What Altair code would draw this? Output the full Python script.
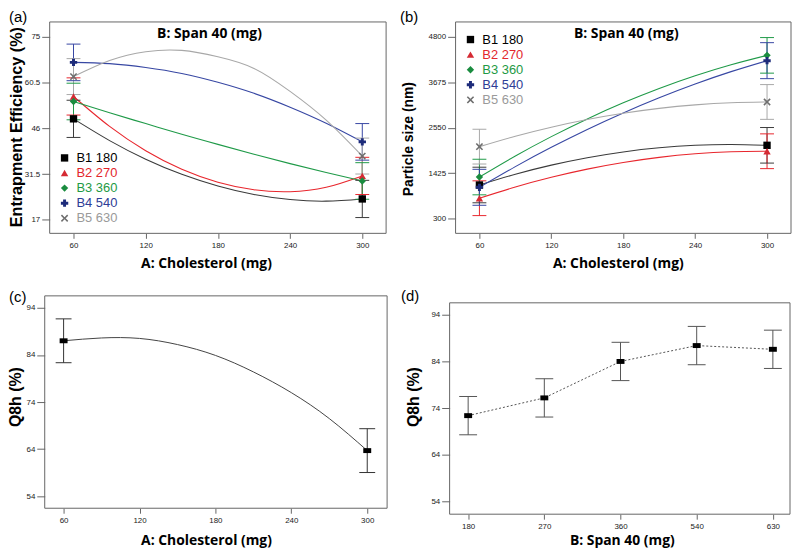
import altair as alt
import pandas as pd

# ---------------- data ----------------
series = ["B1 180", "B2 270", "B3 360", "B4 540", "B5 630"]
line_colors = ["#3a3a3a", "#e8262d", "#1f9a48", "#3747a3", "#a8a8a8"]
marker_colors = ["#000000", "#d52a33", "#1a8c3f", "#1d2b7a", "#6e6e6e"]
text_colors = ["#000000", "#e3262c", "#1e9a45", "#2e3d96", "#9a9a9a"]
X_SHAPE = "M-1,-0.7L-0.7,-1L0,-0.3L0.7,-1L1,-0.7L0.3,0L1,0.7L0.7,1L0,0.3L-0.7,1L-1,0.7L-0.3,0Z"
RECT_SHAPE = "M-1,-0.62L1,-0.62L1,0.62L-1,0.62Z"
shapes = ["square", "triangle-up", "diamond", "cross", X_SHAPE]

chol_levels = [60, 300]
chol_ticks = [60, 120, 180, 240, 300]
curve_x = [60, 90, 120, 150, 180, 210, 240, 270, 300]

# (a) Entrapment efficiency
ee_ticks = [17, 31.5, 46, 60.5, 75]
ee_b1 = [49.0, 42.1, 36.2, 31.4, 27.7, 25.0, 23.4, 22.9, 23.6]
ee_b2 = [56.1, 46.6, 38.9, 33.0, 28.9, 26.5, 25.9, 27.3, 30.9]
ee_b3 = [54.5, 50.9, 47.5, 44.1, 40.9, 37.8, 34.8, 32.0, 29.3]
ee_b4 = [66.9, 66.5, 65.3, 63.4, 60.6, 57.1, 52.7, 47.6, 41.7]
ee_b5 = [62.4, 67.5, 70.3, 70.7, 68.7, 65.0, 57.7, 48.6, 37.2]
ee_at60 = [49.0, 56.1, 54.5, 66.9, 62.4]
ee_at300 = [23.6, 30.9, 29.3, 41.7, 37.2]
ee_err = [5.9, 5.9, 5.8, 5.8, 5.7]

# (b) Particle size
ps_ticks = [300, 1425, 2550, 3675, 4800]
ps_b1 = [1135, 1401, 1626, 1810, 1953, 2055, 2117, 2137, 2117]
ps_b2 = [808, 1086, 1326, 1528, 1692, 1818, 1907, 1957, 1970]
ps_b3 = [1332, 1853, 2332, 2770, 3167, 3523, 3837, 4110, 4342]
ps_b4 = [1078, 1590, 2067, 2510, 2919, 3294, 3634, 3940, 4211]
ps_b5 = [2084, 2342, 2565, 2755, 2910, 3031, 3118, 3171, 3189]
ps_at60 = [1135, 808, 1332, 1078, 2084]
ps_at300 = [2117, 1970, 4342, 4211, 3189]
ps_err = [440, 430, 440, 445, 430]

# (c) Q8h vs cholesterol
q_ticks = [54, 64, 74, 84, 94]
qc_curve = [87.0, 87.6, 87.5, 86.2, 83.9, 80.4, 76.0, 70.5, 63.7]
qc_pts = [87.0, 63.7]
qc_err = [4.65, 4.65]

# (d) Q8h vs Span 40
span_labels = ["180", "270", "360", "540", "630"]
qd_pts = [72.4, 76.2, 84.0, 87.4, 86.6]
qd_err = [4.1, 4.1, 4.1, 4.1, 4.1]

TICK_FONT = "Liberation Sans"
TITLE_FONT = "Open Sans"
FRAME = "#666"


def line_df(curves):
    rows = []
    for i, ys in enumerate(curves):
        for x, y in zip(curve_x, ys):
            rows.append({"x": x, "y": y, "s": series[i], "c": line_colors[i]})
    return pd.DataFrame(rows)


def pt_df(p60, p300, err):
    rows = []
    for i in range(len(series)):
        for x, y in zip(chol_levels, [p60[i], p300[i]]):
            rows.append({"x": x, "y": y, "lo": y - err[i], "hi": y + err[i],
                         "s": series[i], "c": line_colors[i],
                         "mc": marker_colors[i], "shp": shapes[i]})
    return pd.DataFrame(rows)


def legend_df(y0):
    return pd.DataFrame({"s": series, "tc": text_colors, "mc": marker_colors,
                         "shp": shapes, "ly": [y0 + 15.2 * i for i in range(5)]})


def xspec(domain, ticks, label_expr=None):
    ax = dict(values=ticks, title=None, grid=False, domain=False, tickSize=5,
              tickColor=FRAME, labelFontSize=8, labelFont=TICK_FONT,
              labelColor="#222", labelPadding=3, format="d")
    if label_expr:
        ax["labelExpr"] = label_expr
    return dict(scale=alt.Scale(domain=domain, nice=False, zero=False), axis=alt.Axis(**ax))


def yspec(domain, ticks, fmt, offset=0):
    return dict(scale=alt.Scale(domain=domain, nice=False, zero=False),
                axis=alt.Axis(values=ticks, title=None, grid=False, domain=False,
                              tickSize=8, tickColor=FRAME, labelFontSize=8, format=fmt,
                              labelFont=TICK_FONT, labelColor="#222", labelPadding=2,
                              labelFlush=False, offset=offset))


def text_layer(t, x, y, size, font, weight="normal", angle=0, align="center",
               baseline="middle", color="#000"):
    kw = dict(fontSize=size, font=font, fontWeight=weight, align=align,
              baseline=baseline, color=color)
    if angle:
        kw["angle"] = angle
    return alt.Chart(pd.DataFrame({"t": [t]})).mark_text(**kw).encode(
        text="t:N", x=alt.value(x), y=alt.value(y))


def frame_layer(x1, x2, y1, y2):
    return alt.Chart(pd.DataFrame({"f": [0]})).mark_rect(
        fillOpacity=0, stroke=FRAME, strokeWidth=1).encode(
        x=alt.value(x1), x2=alt.value(x2), y=alt.value(y1), y2=alt.value(y2))


def err_layers(df, xs, ys, cap, color_enc):
    X = alt.X("x:Q", **xs)
    base = alt.Chart(df)
    stem = base.mark_rule(strokeWidth=1).encode(
        x=X, y=alt.Y("lo:Q", **ys), y2="hi:Q", color=color_enc)
    cap_lo = base.mark_rule(strokeWidth=1, xOffset=-cap, x2Offset=cap).encode(
        x=X, x2="x:Q", y=alt.Y("lo:Q", **ys), color=color_enc)
    cap_hi = base.mark_rule(strokeWidth=1, xOffset=-cap, x2Offset=cap).encode(
        x=X, x2="x:Q", y=alt.Y("hi:Q", **ys), color=color_enc)
    return [stem, cap_lo, cap_hi]


def curve_panel(curves, p60, p300, err, xdom, ydom, yticks, yfmt, w, h, label, label_x,
                ytitle, ytitle_size, ytitle_x, ytitle_y, legend_y0, title_x, xtitle_x):
    xs = xspec(xdom, chol_ticks)
    ys = yspec(ydom, yticks, yfmt)
    X = alt.X("x:Q", **xs)
    Y = alt.Y("y:Q", **ys)
    col = alt.Color("c:N", scale=None)
    lines = alt.Chart(line_df(curves)).mark_line(interpolate="natural", strokeWidth=1.1).encode(
        x=X, y=Y, color=col, detail="s:N")
    pdf = pt_df(p60, p300, err)
    errs = err_layers(pdf, xs, ys, 7, col)
    pts = alt.Chart(pdf).mark_point(filled=True, size=55, opacity=1).encode(
        x=X, y=Y, fill=alt.Fill("mc:N", scale=None), shape=alt.Shape("shp:N", scale=None))
    ldf = legend_df(legend_y0)
    leg_pts = alt.Chart(ldf).mark_point(filled=True, size=55, opacity=1).encode(
        x=alt.value(15), y=alt.Y("ly:Q", scale=None, axis=None),
        fill=alt.Fill("mc:N", scale=None), shape=alt.Shape("shp:N", scale=None))
    leg_txt = alt.Chart(ldf).mark_text(align="left", baseline="middle", fontSize=13,
                                       font=TICK_FONT).encode(
        x=alt.value(27), y=alt.Y("ly:Q", scale=None, axis=None), text="s:N",
        color=alt.Color("tc:N", scale=None))
    texts = [
        text_layer("B: Span 40 (mg)", title_x, 12, 14, TITLE_FONT, "bold"),
        text_layer(label, label_x, -12, 15, TICK_FONT, align="left", baseline="top"),
        text_layer(ytitle, ytitle_x, ytitle_y, ytitle_size, TICK_FONT, "bold", angle=270),
        text_layer("A: Cholesterol (mg)", xtitle_x, h + 31, 14, TITLE_FONT, "bold"),
    ]
    return alt.layer(frame_layer(0, w, 0, h), lines, *errs, pts, leg_pts, leg_txt,
                     *texts).properties(width=w, height=h)


panel_a = curve_panel([ee_b1, ee_b2, ee_b3, ee_b4, ee_b5], ee_at60, ee_at300, ee_err,
                      [40.2, 319.8], [12.69, 79.72], ee_ticks, ".1~f", 339, 213, "(a)", -41,
                      "Entrapment Efficiency (%)", 16.3, -33, 106, 137, 161, 158)
panel_b = curve_panel([ps_b1, ps_b2, ps_b3, ps_b4, ps_b5], ps_at60, ps_at300, ps_err,
                      [40.1, 320.0], [-61, 5168], ps_ticks, "d", 338, 213, "(b)", -56,
                      "Particle size (nm)", 14, -47, 118, 17.7, 172, 164)

# (c)  frame starts 5px left of the column edge
xs_c = xspec([49.0, 315.7], chol_ticks)
ys_c = yspec([51.47, 96.53], q_ticks, "d", offset=5)
cdf_line = pd.DataFrame({"x": curve_x, "y": qc_curve})
cdf_pts = pd.DataFrame({"x": chol_levels, "y": qc_pts,
                        "lo": [v - e for v, e in zip(qc_pts, qc_err)],
                        "hi": [v + e for v, e in zip(qc_pts, qc_err)]})
c_line = alt.Chart(cdf_line).mark_line(interpolate="natural", color="#444", strokeWidth=1).encode(
    x=alt.X("x:Q", **xs_c), y=alt.Y("y:Q", **ys_c))
c_errs = err_layers(cdf_pts, xs_c, ys_c, 8, alt.value("#333"))
c_pts = alt.Chart(cdf_pts).mark_point(filled=True, size=64, shape=RECT_SHAPE, color="#000", opacity=1).encode(
    x=alt.X("x:Q", **xs_c), y=alt.Y("y:Q", **ys_c))
panel_c = alt.layer(
    frame_layer(-5, 340, 0, 214),
    c_line, *c_errs, c_pts,
    text_layer("(c)", -41, 1, 15, TICK_FONT, align="left", baseline="middle"),
    text_layer("Q8h (%)", -34, 102, 16, TICK_FONT, "bold", angle=270),
    text_layer("A: Cholesterol (mg)", 158, 247, 14, TITLE_FONT, "bold"),
).properties(width=340, height=214)

# (d)  frame starts 6px left and 7px below the cell edge
label_expr = "[" + ",".join(f"'{s}'" for s in span_labels) + "][datum.value - 1]"
xs_d = xspec([0.835, 5.225], [1, 2, 3, 4, 5], label_expr=label_expr)
ys_d = yspec([51.3, 98.04], q_ticks, "d", offset=6)
ddf = pd.DataFrame({"x": list(range(1, len(span_labels) + 1)), "y": qd_pts,
                    "lo": [v - e for v, e in zip(qd_pts, qd_err)],
                    "hi": [v + e for v, e in zip(qd_pts, qd_err)]})
d_line = alt.Chart(ddf).mark_line(color="#555", strokeWidth=1, strokeDash=[2, 2]).encode(
    x=alt.X("x:Q", **xs_d), y=alt.Y("y:Q", **ys_d))
d_errs = err_layers(ddf, xs_d, ys_d, 9, alt.value("#555"))
d_pts = alt.Chart(ddf).mark_point(filled=True, size=64, shape=RECT_SHAPE, color="#000", opacity=1).encode(
    x=alt.X("x:Q", **xs_d), y=alt.Y("y:Q", **ys_d))
panel_d = alt.layer(
    frame_layer(-6, 337, 7, 220),
    d_line, *d_errs, d_pts,
    text_layer("(d)", -55, 0, 15, TICK_FONT, align="left", baseline="middle"),
    text_layer("Q8h (%)", -42, 102, 16, TICK_FONT, "bold", angle=270),
    text_layer("B: Span 40 (mg)", 168, 247, 14, TITLE_FONT, "bold"),
).properties(width=337, height=220)

chart = alt.concat(
    panel_a, panel_b, panel_c, panel_d,
    columns=2, bounds="flush", spacing=alt.RowColnumber(row=63, column=69),
).properties(
    padding={"left": 0, "top": 0, "right": 0, "bottom": 0}
).configure_view(stroke=None)

chart.save("out.html", embed_options={"renderer": "svg", "actions": False})
